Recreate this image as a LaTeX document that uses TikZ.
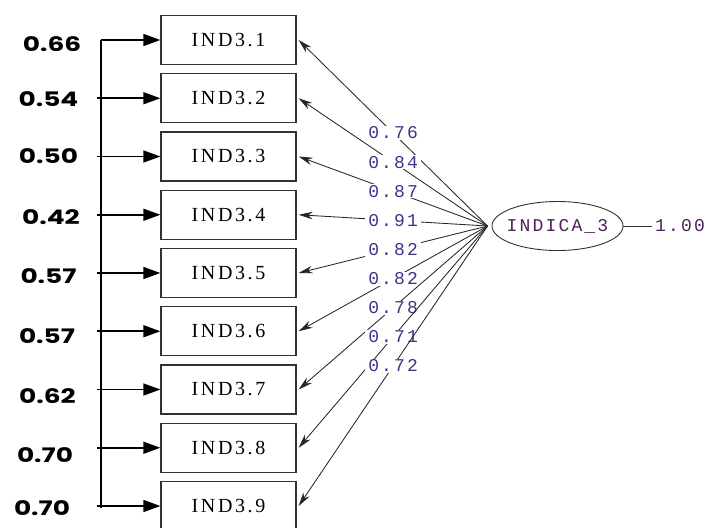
\documentclass[tikz,border=0pt]{standalone}
\usepackage{fontspec}
\usetikzlibrary{arrows.meta,shapes.geometric}
\newfontfamily\monof[LetterSpace=12]{Liberation Mono}
\newfontfamily\boxf[LetterSpace=13]{Liberation Serif}
\newfontfamily\numf{Poppins}
\definecolor{lblc}{RGB}{62,52,135}
\definecolor{namec}{RGB}{80,30,90}
\definecolor{edgec}{RGB}{50,50,50}
\tikzset{
  indbox/.style={draw=edgec,line width=1.3pt,minimum width=135pt,minimum height=49pt,inner sep=0pt,font=\boxf\fontsize{20}{20}\selectfont},
  latent/.style={draw=edgec,ellipse,line width=0.9pt,minimum width=131pt,minimum height=49pt,inner sep=0pt},
  latname/.style={inner sep=0pt,text=namec,font=\monof\fontsize{18}{18}\selectfont},
  errlbl/.style={font=\numf\bfseries\fontsize{20}{20}\selectfont,inner sep=0pt},
  errarrow/.style={line width=1.6pt,-{Triangle[length=17pt,width=12pt]}},
  loadarrow/.style={line width=0.85pt,draw=black!85,-{Stealth[length=14pt,width=7.5pt]}},
  loadlbl/.style={fill=white,inner xsep=3pt,inner ysep=1pt,text=lblc,font=\monof\fontsize{18}{18}\selectfont},
}
\begin{document}
\begin{tikzpicture}[x=1pt,y=-1pt]
\useasboundingbox (0,0) rectangle (708,527);
\clip (0,0) rectangle (708,527);
% indicator boxes
\foreach \i/\y in {1/40,2/98.25,3/156.5,4/214.75,5/273,6/331.25,7/389.5,8/447.75,9/506}{
  \node[indbox] (b\i) at (228.5,\y) {IND3.\i};
}
% latent
\node[latent] (lat) at (557.5,226) {};
\node[latname] (latn) at (lat.center) {INDICA\_3};
\coordinate (vend) at (652,226);
\draw[line width=0.9pt,edgec] (lat.east) -- (vend);
\node[anchor=west,text=namec,font=\monof\fontsize{18}{18}\selectfont,inner sep=0pt] (var) at ([xshift=3pt]vend) {1.00};
% error arrows
\coordinate (t1) at (101,40);
\coordinate (tb) at (101,508);
\draw[line width=2pt] (t1) -- (tb);
\foreach \i/\y in {2/98.25,3/156.5,4/214.75,5/273,6/331.25,7/389.5,8/447.75,9/506}{
  \coordinate (s\i) at (97,\y);
}
\coordinate (s1) at (101,40);
\foreach \i in {1,...,9}{
  \draw[errarrow] (s\i) -- (b\i.west);
}
\node[errlbl] (e1) at (52,44) {\scalebox{1.32}[1]{0.66}};
\node[errlbl] (e2) at (48.5,99) {\scalebox{1.32}[1]{0.54}};
\node[errlbl] (e3) at (48.5,156) {\scalebox{1.32}[1]{0.50}};
\node[errlbl] (e4) at (51,217) {\scalebox{1.32}[1]{0.42}};
\node[errlbl] (e5) at (48.5,276) {\scalebox{1.32}[1]{0.57}};
\node[errlbl] (e6) at (47,336) {\scalebox{1.32}[1]{0.57}};
\node[errlbl] (e7) at (47.5,396) {\scalebox{1.32}[1]{0.62}};
\node[errlbl] (e8) at (45,455) {\scalebox{1.32}[1]{0.70}};
\node[errlbl] (e9) at (42,508) {\scalebox{1.32}[1]{0.70}};
% loadings
\coordinate (src) at ([xshift=-4pt]lat.west);
\foreach \i/\v in {1/0.76,2/0.84,3/0.87,4/0.91,5/0.82,6/0.82,7/0.78,8/0.71,9/0.72}{
  \draw[loadarrow] (src) -- node[loadlbl] (l\i) {\v} ([xshift=2pt]b\i.east);
}
\end{tikzpicture}
\end{document}
